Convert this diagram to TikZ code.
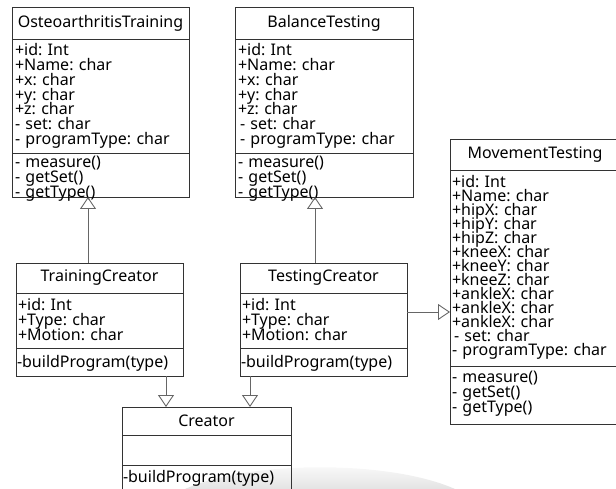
\documentclass[tikz,border=0pt]{standalone}
\usepackage{fontspec}
\setmainfont{Noto Sans}
\frenchspacing
\usetikzlibrary{arrows.meta,calc}
% lines of a member list keep a fixed pitch, however tall the glyphs
\newcommand\tightlines{\lineskiplimit=-100pt\relax\lineskip=0pt\relax}
\begin{document}
\begin{tikzpicture}[x=1pt,y=-1pt,
  part/.style={draw=black!80, line width=0.9pt, anchor=north west,
    inner sep=0pt, outer sep=0pt, font=\fontsize{16}{16}\selectfont, align=center},
  listtext/.style={anchor=north west, inner sep=0pt, outer sep=0pt,
    text width=170pt, align=left,
    font=\fontsize{16}{#1}\selectfont\tightlines},
  gen/.style={draw=black!60, line width=0.9pt,
    -{Triangle[open, length=12pt, width=16pt, line width=0.9pt]}},
]
\useasboundingbox (0,0) rectangle (616,489);

% soft shadow at the lower edge
\shade[top color=white, bottom color=gray!22]
  (185,489) .. controls (250,460) and (390,460) .. (455,489) -- cycle;

% OsteoarthritisTraining
\node[part, minimum width=177pt, minimum height=32pt] (otT) at (12,7) {OsteoarthritisTraining};
\node[part, minimum width=177pt, minimum height=114pt] (otA) at (otT.south west) {};
\node[part, minimum width=177pt, minimum height=44pt] (otM) at (otA.south west) {};
\node[listtext=14.8pt] (otAt) at ($(otA.north west)+(3,4.5)$)
  {+id: Int\\+Name: char\\+x: char\\+y: char\\+z: char\\- set: char\\- programType: char};
\node[listtext=15pt] (otMt) at ($(otM.north west)+(3,3.5)$)
  {- measure()\\- getSet()\\- getType()};

% BalanceTesting
\node[part, minimum width=178pt, minimum height=32pt] (btT) at (235,7) {BalanceTesting};
\node[part, minimum width=178pt, minimum height=114pt] (btA) at (btT.south west) {};
\node[part, minimum width=178pt, minimum height=44pt] (btM) at (btA.south west) {};
\node[listtext=14.8pt] (btAt) at ($(btA.north west)+(3,4.5)$)
  {+id: Int\\+Name: char\\+x: char\\+y: char\\+z: char\\\hspace{2pt}- set: char\\\hspace{2pt}- programType: char};
\node[listtext=15pt] (btMt) at ($(btM.north west)+(3,3.5)$)
  {- measure()\\- getSet()\\- getType()};

% MovementTesting
\node[part, minimum width=170pt, minimum height=31pt, text width=164pt] (mtT) at (450,139) {MovementTesting};
\node[part, minimum width=170pt, minimum height=196pt] (mtA) at (mtT.south west) {};
\node[part, minimum width=170pt, minimum height=58pt] (mtM) at (mtA.south west) {};
\node[listtext=14pt] (mtAt) at ($(mtA.north west)+(2,5.5)$)
  {+id: Int\\+Name: char\\+hipX: char\\+hipY: char\\+hipZ: char\\+kneeX: char\\+kneeY: char\\+kneeZ: char\\+ankleX: char\\+ankleX: char\\+ankleX: char\\\hspace{2pt}- set: char\\- programType: char};
\node[listtext=15pt] (mtMt) at ($(mtM.north west)+(2,5.5)$)
  {- measure()\\- getSet()\\- getType()};

% TrainingCreator
\node[part, minimum width=167pt, minimum height=30pt] (tcT) at (16,263) {TrainingCreator};
\node[part, minimum width=167pt, minimum height=55pt] (tcA) at (tcT.south west) {};
\node[part, minimum width=167pt, minimum height=28pt] (tcM) at (tcA.south west) {};
\node[listtext=15pt] (tcAt) at ($(tcA.north west)+(2,5.5)$)
  {+id: Int\\+Type: char\\+Motion: char};
\node[listtext=15pt] (tcMt) at ($(tcM.north west)+(1,7.5)$)
  {-buildProgram(type)};

% TestingCreator
\node[part, minimum width=167pt, minimum height=30pt] (teT) at (240,263) {TestingCreator};
\node[part, minimum width=167pt, minimum height=55pt] (teA) at (teT.south west) {};
\node[part, minimum width=167pt, minimum height=28pt] (teM) at (teA.south west) {};
\node[listtext=15pt] (teAt) at ($(teA.north west)+(2,5.5)$)
  {+id: Int\\+Type: char\\+Motion: char};
\node[listtext=15pt] (teMt) at ($(teM.north west)+(1,7.5)$)
  {-buildProgram(type)};

% Creator
\node[part, minimum width=169pt, minimum height=28pt] (crT) at (122,407) {Creator};
\node[part, minimum width=169pt, minimum height=30pt] (crA) at (crT.south west) {};
\node[part, minimum width=169pt, minimum height=26pt] (crM) at (crA.south west) {};
\node[listtext=15pt] (crMt) at ($(crM.north west)+(1,5.5)$)
  {-buildProgram(type)};

% columns of the generalisation lines
\coordinate (colOT) at (88,0);
\coordinate (colBT) at (315,0);
\coordinate (colTC) at (166,0);
\coordinate (colTE) at (250,0);
\coordinate (rowMT) at (0,312);

\draw[gen] (tcT.north -| colOT) -- (otM.south -| colOT);
\draw[gen] (teT.north -| colBT) -- (btM.south -| colBT);
\draw[gen] (teA.east |- rowMT) -- (mtA.west |- rowMT);
\draw[gen] (tcM.south -| colTC) -- (crT.north -| colTC);
\draw[gen] (teM.south -| colTE) -- (crT.north -| colTE);
\end{tikzpicture}
\end{document}
